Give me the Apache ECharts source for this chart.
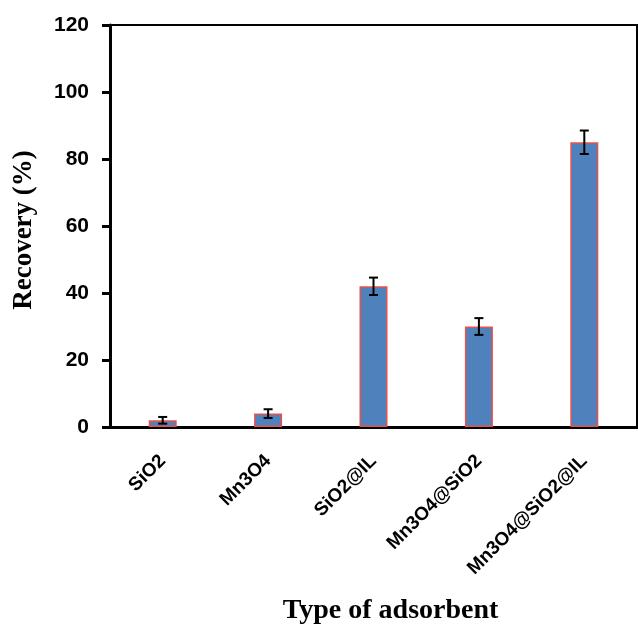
<!DOCTYPE html>
<html>
<head>
<meta charset="utf-8">
<script src="https://cdn.jsdelivr.net/npm/echarts@6/dist/echarts.min.js"></script>
<style>
  html, body { margin: 0; padding: 0; background: #fff; }
  #chart { width: 638px; height: 628px; }
</style>
</head>
<body>
<div id="chart"></div>
<script>
const categories = ['SiO2', 'Mn3O4', 'SiO2@IL', 'Mn3O4@SiO2', 'Mn3O4@SiO2@IL'];
const recovery = [2, 4, 42, 30, 85];
const errors = [1, 1.3, 2.6, 2.5, 3.5];
const yTicks = { min: 0, max: 120, interval: 20 };

const myChart = echarts.init(document.getElementById('chart'));

const errData = recovery.map((v, i) => [i, v - errors[i], v + errors[i]]);

const option = {
    backgroundColor: '#fff',
    animation: false,
    grid: {
        left: 110,
        top: 25,
        width: 527,
        bottom: 201,
        containLabel: false,
        outerBoundsMode: 'none',
        show: true,
        borderColor: '#000',
        borderWidth: 2
    },
    xAxis: {
        type: 'category',
        data: categories,
        name: 'Type of adsorbent',
        nameLocation: 'middle',
        nameGap: 170,
        nameTextStyle: {
            fontFamily: 'Liberation Serif',
            fontWeight: 'bold',
            fontSize: 28,
            color: '#000',
            padding: [0, 0, 0, 34]
        },
        axisLine: { lineStyle: { color: '#000', width: 3 } },
        axisTick: { show: false },
        axisLabel: {
            rotate: 45,
            margin: 31,
            color: '#000',
            fontFamily: 'Liberation Sans',
            fontWeight: 'bold',
            fontSize: 19
        }
    },
    yAxis: {
        type: 'value',
        min: yTicks.min,
        max: yTicks.max,
        interval: yTicks.interval,
        name: 'Recovery (%)',
        nameLocation: 'middle',
        nameGap: 72,
        nameTextStyle: {
            fontFamily: 'Liberation Serif',
            fontWeight: 'bold',
            fontSize: 27,
            color: '#000',
            padding: [0, 8, 0, 0]
        },
        axisLine: { show: true, lineStyle: { color: '#000', width: 3 } },
        axisTick: { show: true, length: 8, lineStyle: { color: '#000', width: 3 } },
        splitLine: { show: false },
        axisLabel: {
            margin: 21,
            color: '#000',
            fontFamily: 'Liberation Sans',
            fontWeight: 'bold',
            fontSize: 21
        }
    },
    series: [
        {
            type: 'bar',
            data: recovery,
            barWidth: 28,
            itemStyle: {
                color: '#4f81bd',
                borderColor: '#e8504a',
                borderWidth: 1.5
            }
        },
        {
            type: 'custom',
            data: errData,
            z: 10,
            renderItem: function (params, api) {
                const x = api.value(0);
                const lo = api.coord([x, api.value(1)]);
                const hi = api.coord([x, api.value(2)]);
                const half = 4.5;
                const style = { stroke: '#000', lineWidth: 2 };
                return {
                    type: 'group',
                    children: [
                        { type: 'line', shape: { x1: lo[0], y1: lo[1], x2: hi[0], y2: hi[1] }, style: style },
                        { type: 'line', shape: { x1: lo[0] - half, y1: lo[1], x2: lo[0] + half, y2: lo[1] }, style: style },
                        { type: 'line', shape: { x1: hi[0] - half, y1: hi[1], x2: hi[0] + half, y2: hi[1] }, style: style }
                    ]
                };
            }
        }
    ]
};

option && myChart.setOption(option);
</script>
</body>
</html>
